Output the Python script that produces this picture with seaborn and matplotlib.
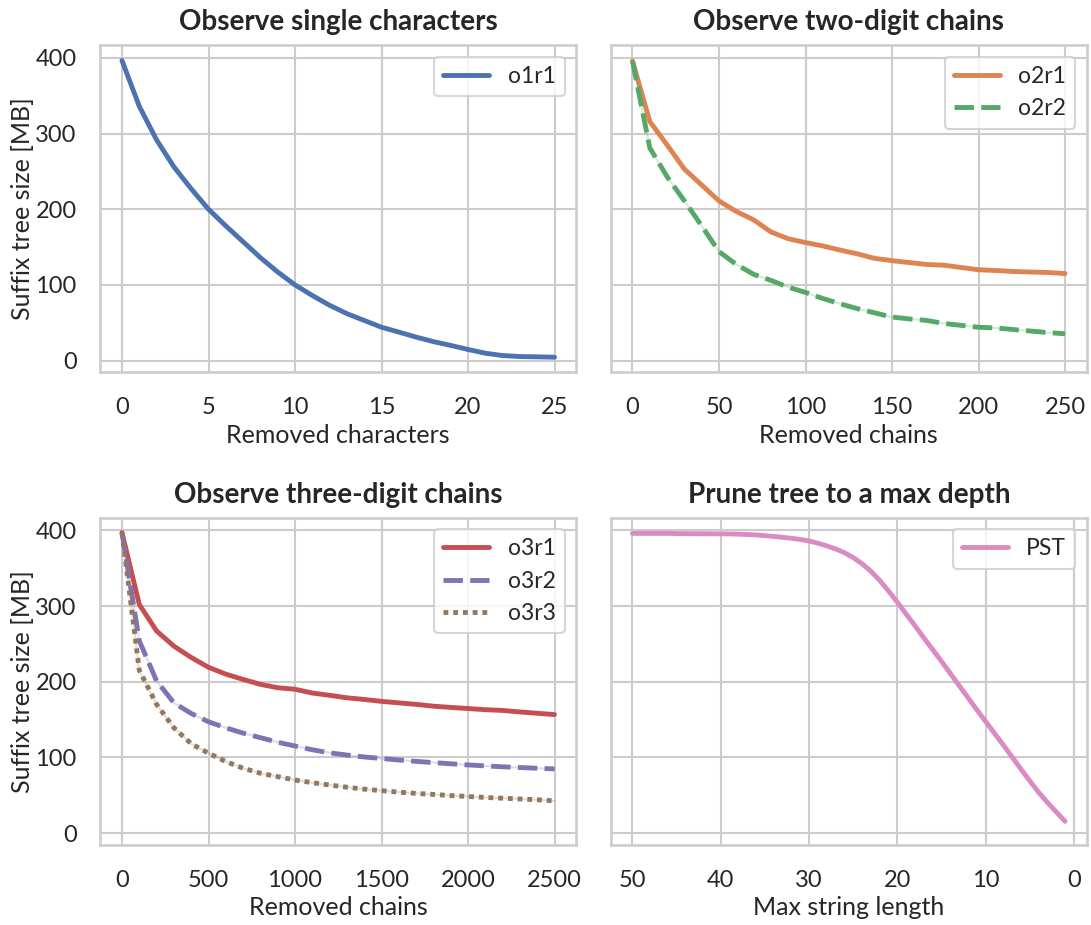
import numpy as np
import pandas as pd
import seaborn as sns
import matplotlib
matplotlib.use("Agg")
import matplotlib.pyplot as plt

# removed characters / chains
chars = list(range(0, 26))
chains2 = list(range(0, 260, 10))
chains3 = list(range(0, 2600, 100))
max_len = list(range(50, 0, -1))

o1r1 = [396.5, 336, 291.6, 256, 227, 200, 178, 157, 136, 117, 100, 86, 73, 62, 53,
        44, 37.6, 31, 25, 20, 14.6, 9.7, 6.6, 5.3, 4.9, 4.4]

o2r1 = [396, 316, 285, 253, 232, 211, 197, 186, 170, 161, 156, 151.5, 146, 141, 135,
        132, 129.5, 127, 126, 123, 120, 119, 117.7, 117, 116.4, 115]
o2r2 = [396, 281, 243, 211, 178, 144, 127, 114, 106, 97, 90, 82, 75, 68.6, 63,
        57.5, 55, 53, 49, 46.5, 44, 43, 41, 39, 37, 35.4]

o3r1 = [397, 302, 267, 247, 232, 219, 210, 203, 196.5, 192, 190, 185, 182, 178.7,
        176.5, 174, 172, 170, 167.6, 166, 164.5, 163, 162, 160, 158.3, 156.5]
o3r2 = [397, 254, 201, 172, 158, 147, 139, 132, 126, 120, 115, 110, 106, 103, 100.5,
        98.5, 96.5, 94.7, 93, 91.5, 90, 88.7, 87.5, 86.5, 85.6, 84.7]
o3r3 = [397, 215, 170, 139, 118, 105.5, 94.5, 85.6, 79, 74.5, 70, 66.5, 63.4, 60.5,
        58, 56, 54, 52.3, 51, 49.5, 48.3, 47, 46, 45, 44, 42.5]

pst = [396, 396, 396, 396, 396, 395.8, 395.7, 395.6, 395.5, 395.5,   # 50..41
       395.4, 395.3, 395, 394.5, 394, 393, 392, 390.8, 389.5, 388,      # 40..31
       386, 383, 379.5, 375.5, 370.5, 364, 356, 346, 334, 320,          # 30..21
       305, 289.5, 274, 258, 242.5, 227, 211, 195, 179, 163,            # 20..11
       147.5, 132, 116.5, 100.5, 84.5, 69, 54, 40.5, 28, 15.5]          # 10..1

sns.set_theme(style="whitegrid", context="talk", palette="deep")
plt.rcParams['font.family'] = ['Lato', 'DejaVu Sans']
plt.rcParams['xtick.major.pad'] = 9
plt.rcParams['ytick.major.pad'] = 8
plt.rcParams['axes.titlesize'] = 20
plt.rcParams['axes.titlepad'] = 11
plt.rcParams['xtick.labelsize'] = 17
plt.rcParams['ytick.labelsize'] = 17
pal = sns.color_palette("deep")

fig, axes = plt.subplots(2, 2, figsize=(10.91, 9.25), dpi=100, sharey=True)
fig.subplots_adjust(left=0.092, right=0.996, top=0.951, bottom=0.087,
                    wspace=0.073, hspace=0.446)

def draw(ax, x, y, label, color, dashes):
    # faint band-like trace under the line (shows in dash gaps)
    sns.lineplot(x=x, y=y, ax=ax, color=color, alpha=0.25, linewidth=1.5, legend=False)
    sns.lineplot(x=x, y=y, ax=ax, color=color, linewidth=3.5, label=label)
    if dashes is not None:
        ax.lines[-1].set_dashes(dashes)

ax = axes[0, 0]
draw(ax, chars, o1r1, "o1r1", pal[0], None)
ax.set_title("Observe single characters", fontweight="bold")
ax.set_xlabel("Removed characters")
ax.set_ylabel("Suffix tree size [MB]", labelpad=1)
ax.set_xticks([0, 5, 10, 15, 20, 25])

ax = axes[0, 1]
draw(ax, chains2, o2r1, "o2r1", pal[1], None)
draw(ax, chains2, o2r2, "o2r2", pal[2], (4, 1.5))
ax.set_title("Observe two-digit chains", fontweight="bold")
ax.set_xlabel("Removed chains")
ax.set_xticks([0, 50, 100, 150, 200, 250])

ax = axes[1, 0]
draw(ax, chains3, o3r1, "o3r1", pal[3], None)
draw(ax, chains3, o3r2, "o3r2", pal[4], (4, 1.5))
draw(ax, chains3, o3r3, "o3r3", pal[5], (1, 1))
ax.set_title("Observe three-digit chains", fontweight="bold")
ax.set_xlabel("Removed chains")
ax.set_ylabel("Suffix tree size [MB]", labelpad=1)
ax.set_xticks([0, 500, 1000, 1500, 2000, 2500])

ax = axes[1, 1]
draw(ax, max_len, pst, "PST", pal[6], None)
ax.set_title("Prune tree to a max depth", fontweight="bold")
ax.set_xlabel("Max string length")
ax.set_xticks([50, 40, 30, 20, 10, 0])
ax.invert_xaxis()

axes[0, 0].set_yticks([0, 100, 200, 300, 400])

for ax in axes.flat:
    ax.legend(loc="upper right")

fig.savefig("out.png")
